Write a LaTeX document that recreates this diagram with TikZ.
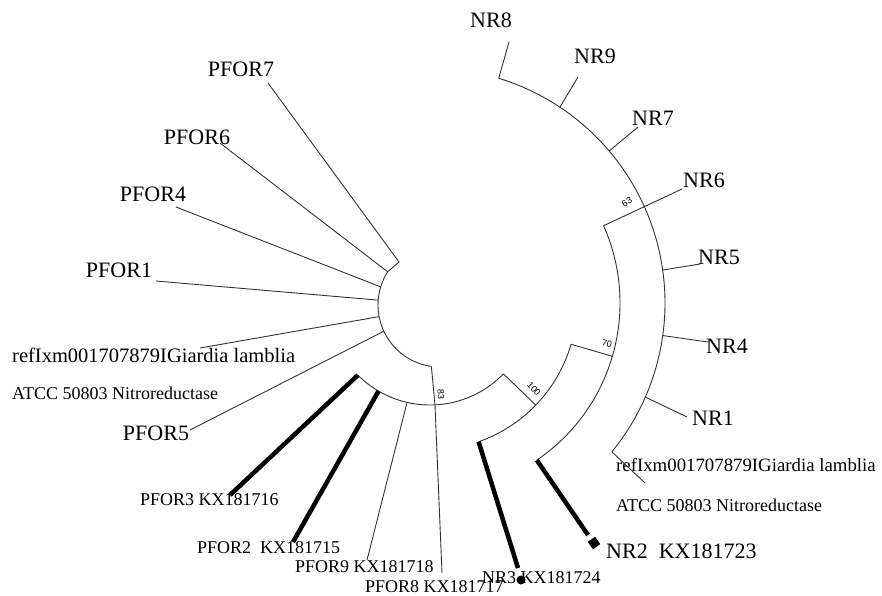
\documentclass[tikz,border=0pt]{standalone}
\usepackage{fontspec}
\setmainfont{Liberation Serif}
\newfontfamily\bootfont{Liberation Sans}
\tikzset{
    branch/.style={line width=0.9pt, black!80},
    hitbranch/.style={line width=4.5pt, black}
}
\tikzset{
    taxon/.style={font=\fontsize{22}{22}\selectfont, inner sep=0pt},
    acc/.style={font=\fontsize{18}{18}\selectfont, inner sep=0pt, anchor=west},
    boot/.style={font=\bootfont\fontsize{9}{9}\selectfont, inner sep=0pt}
}

\begin{document}
\begin{tikzpicture}[x=1pt,y=-1pt]
	\useasboundingbox (0,0) rectangle (882,596);
	\coordinate (ctr) at (430,303);
	\coordinate (pctr) at (440,305);

	% points on the arcs
	\coordinate (o8) at ([shift={(ctr)}]-73:235);
	\coordinate (o9) at ([shift={(ctr)}]-56.45:235);
	\coordinate (o7) at ([shift={(ctr)}]-40.3:235);
	\coordinate (o5) at ([shift={(ctr)}]-8.06:235);
	\coordinate (o4) at ([shift={(ctr)}]7.96:235);
	\coordinate (o1) at ([shift={(ctr)}]23.6:235);
	\coordinate (oref) at ([shift={(ctr)}]39.3:235);
	\coordinate (i63) at ([shift={(ctr)}]-24:190);
	\coordinate (i70) at ([shift={(ctr)}]16.3:190);
	\coordinate (i2) at ([shift={(ctr)}]55.8:190);
	\coordinate (m70) at ([shift={(ctr)}]16.3:147);
	\coordinate (m100) at ([shift={(ctr)}]44:147);
	\coordinate (m3) at ([shift={(ctr)}]70.7:147);
	\coordinate (l100) at ([shift={(ctr)}]44:102);
	\coordinate (l83) at ([shift={(ctr)}]87.2:102);
	\coordinate (l9) at ([shift={(ctr)}]103:102);
	\coordinate (l2) at ([shift={(ctr)}]120.3:102);
	\coordinate (l3) at ([shift={(ctr)}]135:102);
	\coordinate (u7) at ([shift={(pctr)}]212.4:62);
	\coordinate (u4) at ([shift={(pctr)}]197:62);
	\coordinate (u1) at ([shift={(pctr)}]184.5:62);
	\coordinate (uref) at ([shift={(pctr)}]169.2:62);
	\coordinate (u5) at ([shift={(pctr)}]155:62);
	\coordinate (u83) at ([shift={(pctr)}]98:62);
	\coordinate (kink) at (399,262);

	% free ends of the leaves
	\coordinate (nr8e) at (509,42);
	\coordinate (nr9e) at (578,77);
	\coordinate (nr7e) at (638,127);
	\coordinate (nr6e) at (682,189);
	\coordinate (nr5e) at (700,264);
	\coordinate (nr4e) at (708,342);
	\coordinate (nr1e) at (687,417);
	\coordinate (refre) at (645,483);
	\coordinate (nr2e) at (588,535);
	\coordinate (nr3e) at (518,568);
	\coordinate (p8e) at (442,573);
	\coordinate (p9e) at (367,560);
	\coordinate (p2e) at (293,542);
	\coordinate (p3e) at (230,495);
	\coordinate (p5e) at (190,430);
	\coordinate (prefe) at (200,348);
	\coordinate (p1e) at (156,281);
	\coordinate (p4e) at (176,207);
	\coordinate (p6e) at (220,143);
	\coordinate (p7e) at (268,83);

	\node[taxon] (nr8) at (491,20) {NR8};
	\node[taxon] (nr9) at (595,56) {NR9};
	\node[taxon] (nr7) at (653,118) {NR7};
	\node[taxon] (nr6) at (704,180) {NR6};
	\node[taxon] (nr5) at (719,257) {NR5};
	\node[taxon] (nr4) at (727,346) {NR4};
	\node[taxon] (nr1) at (713,418) {NR1};
	\node[acc, font=\fontsize{18.8}{18.8}\selectfont] (refr) at (616,465) {refIxm001707879IGiardia lamblia};
	\node[acc] (atccr) at (616,505) {ATCC 50803 Nitroreductase};
	\node[taxon, anchor=west] (nr2) at (606,551) {NR2\ \ KX181723};
	\node[acc] (nr3) at (482,578) {NR3 KX181724};
	\node[acc] (p8) at (365,587) {PFOR8 KX181717};
	\node[acc] (p9) at (295,567) {PFOR9 KX181718};
	\node[acc] (p2) at (197,548) {PFOR2\ \ KX181715};
	\node[acc] (p3) at (140,500) {PFOR3 KX181716};
	\node[taxon] (p5) at (156,433) {PFOR5};
	\node[acc] (atccl) at (12,393) {ATCC 50803 Nitroreductase};
	\node[acc, font=\fontsize{20.5}{20.5}\selectfont] (refl) at (12,355) {refIxm001707879IGiardia lamblia};
	\node[taxon] (p1) at (119,270) {PFOR1};
	\node[taxon] (p4) at (153,194) {PFOR4};
	\node[taxon] (p6) at (197,137) {PFOR6};
	\node[taxon] (p7) at (241,69) {PFOR7};

	\node[boot, rotate=-88] (b83) at (441,394) {83};
	\node[boot, rotate=-48] (b100) at (534,389) {100};
	\node[boot, rotate=-15] (b70) at (607,344) {70};
	\node[boot, rotate=30] (b63) at (627,202) {63};

	\draw[branch] (o8) arc[start angle=-73, end angle=39.3, radius=235];
	\draw[branch] (i63) arc[start angle=-24, end angle=55.8, radius=190];
	\draw[branch] (m70) arc[start angle=16.3, end angle=70.7, radius=147];
	\draw[branch] (l100) arc[start angle=44, end angle=135, radius=102];
	\draw[branch] (u7) arc[start angle=212.4, end angle=98, radius=62];

	\draw[branch] (i63) -- (nr6e); \draw[branch] (m70) -- (i70);
	\draw[branch] (m100) -- (l100); \draw[branch] (u83) -- (l83) -- (p8e);

	\draw[branch] (o8) -- (nr8e); \draw[branch] (o9) -- (nr9e);
	\draw[branch] (o7) -- (nr7e); \draw[branch] (o5) -- (nr5e);
	\draw[branch] (o4) -- (nr4e); \draw[branch] (o1) -- (nr1e);
	\draw[branch] (oref) -- (refre); \draw[branch] (l9) -- (p9e);
	\draw[hitbranch] (i2) -- (nr2e); \draw[hitbranch] (m3) -- (nr3e);
	\draw[hitbranch] (l3) -- (p3e); \draw[hitbranch] (l2) -- (p2e);

	\draw[branch] (u7) -- (kink) -- (p7e); \draw[branch] (u7) -- (p6e);
	\draw[branch] (u4) -- (p4e); \draw[branch] (u1) -- (p1e);
	\draw[branch] (uref) -- (prefe); \draw[branch] (u5) -- (p5e);

	\node[circle, fill, inner sep=0pt, minimum size=9] (dot3) at (521,580) {};
	\node[rectangle, fill, inner sep=0pt, minimum size=9, rotate=35] (box2) at (594,543) {};
\end{tikzpicture}
\end{document}
